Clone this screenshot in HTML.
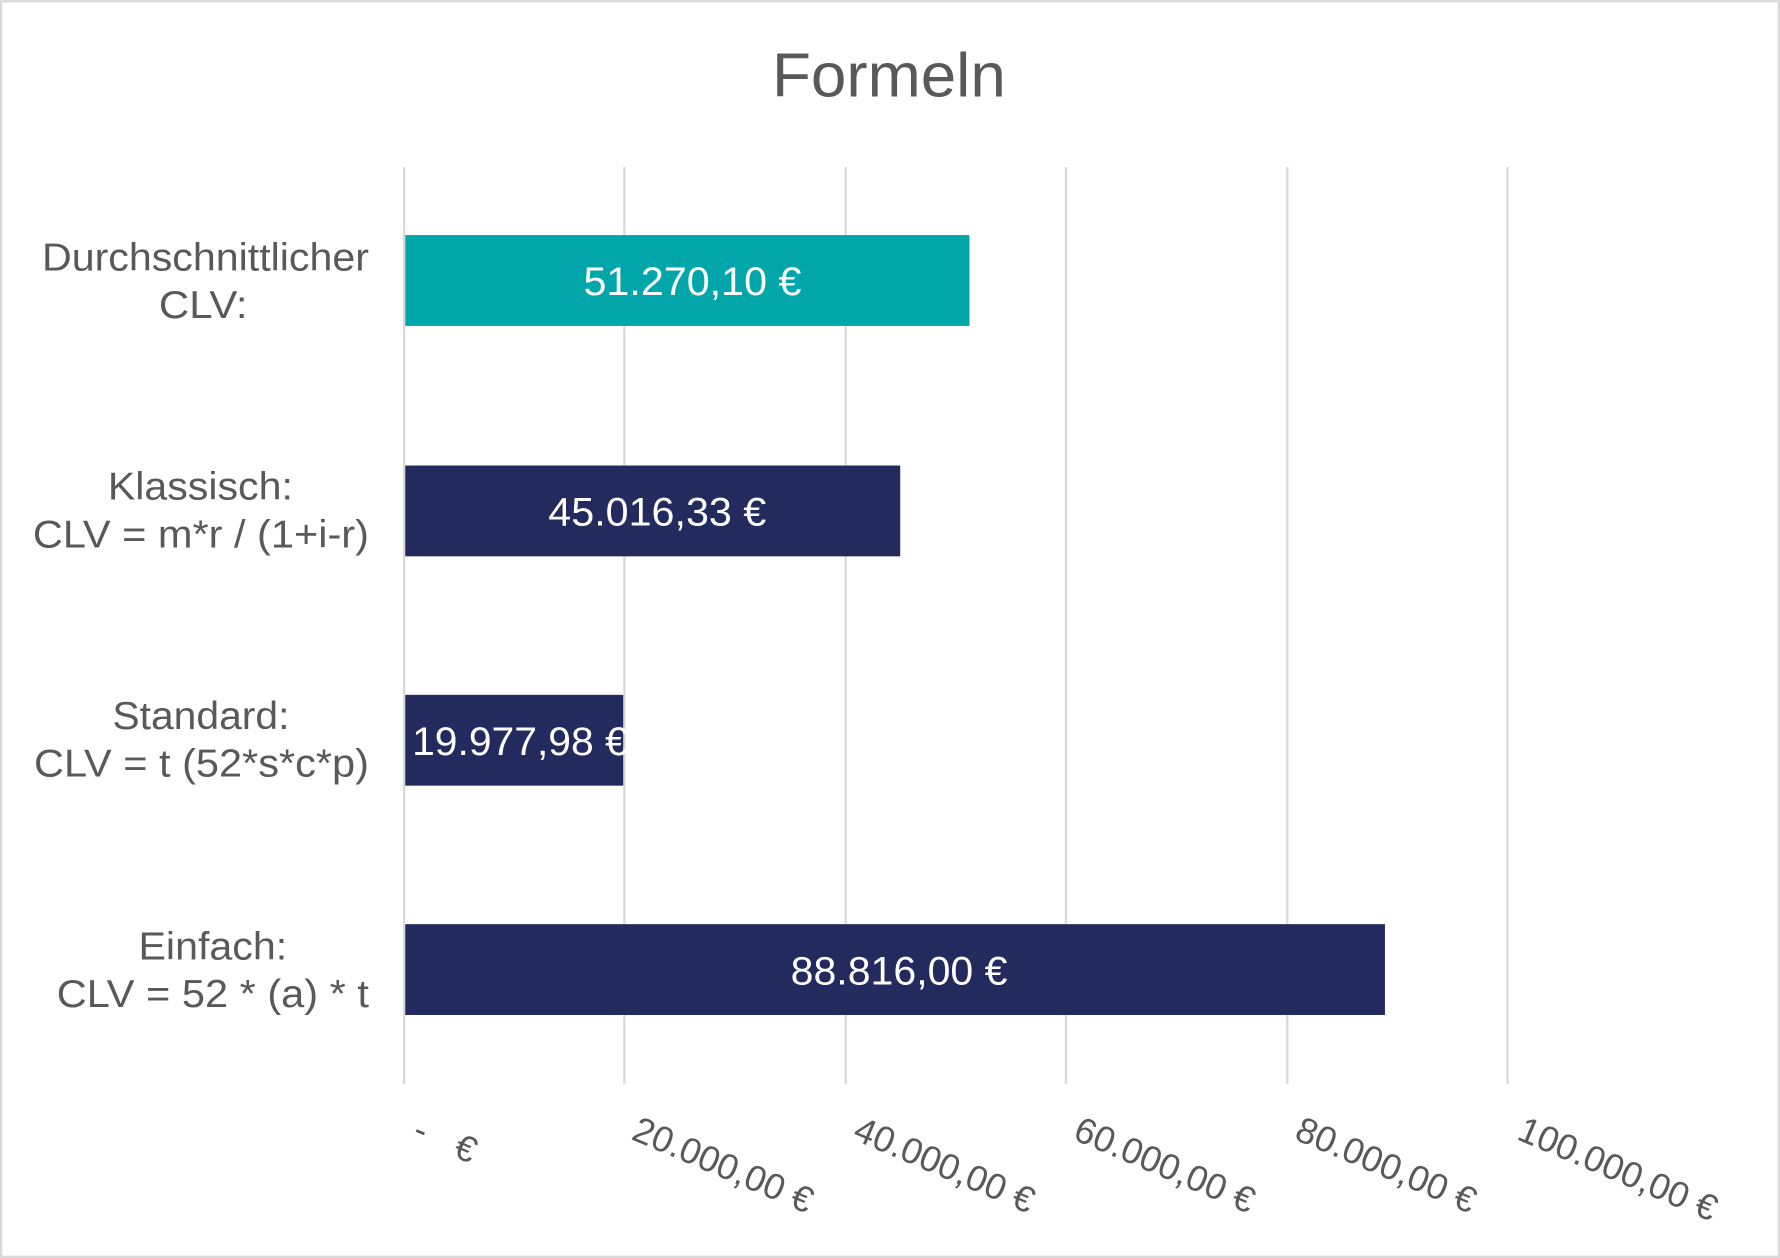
<!DOCTYPE html>
<html><head><style>html,body{margin:0;padding:0;background:#fff}svg{display:block}</style></head>
<body>
<svg width="1780" height="1258" viewBox="0 0 1568 1108" xmlns="http://www.w3.org/2000/svg" font-family="Liberation Sans, Arial, sans-serif">
<rect x="1" y="1" width="1566" height="1106" fill="#fff" stroke="#d9d9d9" stroke-width="2"/>
<text x="783" y="85" text-anchor="middle" font-size="55" fill="#595959" textLength="206" lengthAdjust="spacingAndGlyphs">Formeln</text>
<g stroke="#d9d9d9" stroke-width="2">
<line x1="356" y1="147" x2="356" y2="955"/>
<line x1="550" y1="147" x2="550" y2="955"/>
<line x1="745" y1="147" x2="745" y2="955"/>
<line x1="939" y1="147" x2="939" y2="955"/>
<line x1="1134" y1="147" x2="1134" y2="955"/>
<line x1="1328" y1="147" x2="1328" y2="955"/>
</g>
<rect x="357" y="207" width="497" height="80" fill="#00A6AA"/>
<rect x="357" y="410" width="436" height="80" fill="#222A5E"/>
<rect x="357" y="612" width="192" height="80" fill="#222A5E"/>
<rect x="357" y="814" width="863" height="80" fill="#222A5E"/>
<g fill="#fff" font-size="35" text-anchor="middle">
<text x="610" y="260" textLength="192" lengthAdjust="spacingAndGlyphs">51.270,10 €</text>
<text x="579" y="463" textLength="192" lengthAdjust="spacingAndGlyphs">45.016,33 €</text>
<text x="458" y="665" textLength="190" lengthAdjust="spacingAndGlyphs">19.977,98 €</text>
<text x="792" y="867" textLength="191" lengthAdjust="spacingAndGlyphs">88.816,00 €</text>
</g>
<g fill="#595959" font-size="34" lengthAdjust="spacingAndGlyphs">
<text x="37" y="238" textLength="288" lengthAdjust="spacingAndGlyphs">Durchschnittlicher</text>
<text x="140" y="280" textLength="78" lengthAdjust="spacingAndGlyphs">CLV:</text>
<text x="95" y="440" textLength="163" lengthAdjust="spacingAndGlyphs">Klassisch:</text>
<text x="29" y="482" textLength="296" lengthAdjust="spacingAndGlyphs">CLV = m*r / (1+i-r)</text>
<text x="99" y="642" textLength="156" lengthAdjust="spacingAndGlyphs">Standard:</text>
<text x="30" y="684" textLength="295" lengthAdjust="spacingAndGlyphs">CLV = t (52*s*c*p)</text>
<text x="122" y="845" textLength="131" lengthAdjust="spacingAndGlyphs">Einfach:</text>
<text x="50" y="887" textLength="275" lengthAdjust="spacingAndGlyphs">CLV = 52 * (a) * t</text>
</g>
<g fill="#595959" font-size="32">
<text transform="translate(362,1003) rotate(23)">-</text>
<text transform="translate(398,1018) rotate(23)">€</text>
<text transform="translate(555,1003) rotate(23)">20.000,00 €</text>
<text transform="translate(750,1003) rotate(23)">40.000,00 €</text>
<text transform="translate(944,1003) rotate(23)">60.000,00 €</text>
<text transform="translate(1139,1003) rotate(23)">80.000,00 €</text>
<text transform="translate(1335,1003) rotate(23)">100.000,00 €</text>
</g>
</svg>
</body></html>
